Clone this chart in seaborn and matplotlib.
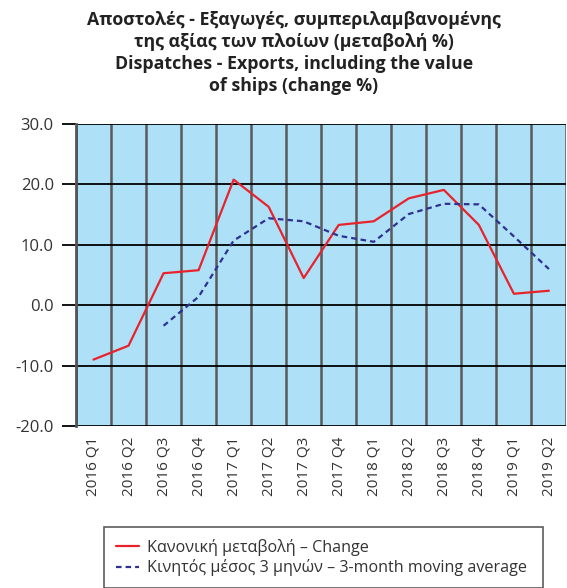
import numpy as np
import pandas as pd
import matplotlib
matplotlib.use("Agg")
import matplotlib.pyplot as plt
import seaborn as sns

# Datos
quarters = ["2016 Q1", "2016 Q2", "2016 Q3", "2016 Q4",
            "2017 Q1", "2017 Q2", "2017 Q3", "2017 Q4",
            "2018 Q1", "2018 Q2", "2018 Q3", "2018 Q4",
            "2019 Q1", "2019 Q2"]
change = [-9.0, -6.7, 5.3, 5.8, 20.8, 16.3, 4.5, 13.3,
          13.9, 17.7, 19.1, 13.3, 1.9, 2.4]
moving_avg = [np.nan, np.nan, -3.4, 1.4, 10.7, 14.4, 13.9, 11.5,
              10.5, 15.1, 16.8, 16.7, 11.4, 6.0]
y_ticks = [-20.0, -10.0, 0.0, 10.0, 20.0, 30.0]

label_change = "Κανονική μεταβολή – Change"
label_avg = "Κινητός μέσος 3 μηνών – 3-month moving average"
title = ("Αποστολές - Εξαγωγές, συμπεριλαμβανομένης\n"
         "της αξίας των πλοίων (μεταβολή %)\n"
         "Dispatches - Exports, including the value\n"
         "of ships (change %)")

df = pd.DataFrame({"pos": range(len(quarters)), "quarter": quarters,
                   "change": change, "avg": moving_avg})

sns.set_style("white")
plt.rcParams["font.family"] = ["Open Sans", "DejaVu Sans"]
text_color = "#333333"

fig = plt.figure(figsize=(5.67, 5.88), dpi=100)
ax = fig.add_axes([0.134, 0.2755, 0.865, 0.5135])
ax.set_facecolor("#aee0f8")

sns.lineplot(data=df, x="pos", y="change", ax=ax, color="#e8232b",
             linewidth=1.6, label=label_change)
sns.lineplot(data=df.dropna(), x="pos", y="avg", ax=ax, color="#2e3192",
             linewidth=1.6, dashes=False, label=label_avg)
ax.lines[1].set_dashes((2.5, 1.8))

ax.set_xlim(-0.5, len(quarters) - 0.5)
ax.set_ylim(-20, 30)
ax.set_yticks(y_ticks)
ax.set_yticklabels([f"{v:.1f}" for v in y_ticks], fontsize=12, color=text_color)
ax.set_xticks(range(len(quarters)))
ax.set_xticklabels(quarters, rotation=90, fontsize=11, color=text_color)
ax.set_xticks(np.arange(-0.5, len(quarters), 1), minor=True)
ax.tick_params(axis="x", which="major", length=0, pad=8)
ax.tick_params(axis="x", which="minor", length=2, color="#555555")
ax.tick_params(axis="y", length=10, width=1.3, color="black", pad=6, left=True)

ax.grid(True, axis="y", which="major", color="black", linewidth=1.3)
ax.grid(True, axis="x", which="minor", color="#5a5a5a", linewidth=1.8)
ax.set_axisbelow(True)
for s in ["top", "right", "bottom"]:
    ax.spines[s].set_visible(False)
ax.spines["left"].set_color("#555555")
ax.spines["left"].set_linewidth(2)
ax.set_xlabel("")
ax.set_ylabel("")

fig.text(0.518, 0.982, title, ha="center", va="top", fontsize=12.8,
         fontweight="bold", color="#222222", linespacing=1.3)

handles, labels = ax.get_legend_handles_labels()
ax.legend_.remove()
leg = fig.legend(handles, labels, loc="upper left",
                 bbox_to_anchor=(104 / 567, 1 - 527 / 588, 439 / 567, 0.0),
                 mode="expand", fontsize=11.6, frameon=True, fancybox=False,
                 edgecolor="#333333", handlelength=1.4, borderpad=0.75,
                 labelspacing=0.2, handletextpad=0.5, borderaxespad=0.0)
leg.get_frame().set_linewidth(1.2)
for t in leg.get_texts():
    t.set_color(text_color)

fig.savefig("out.png", dpi=100)
plt.close(fig)
